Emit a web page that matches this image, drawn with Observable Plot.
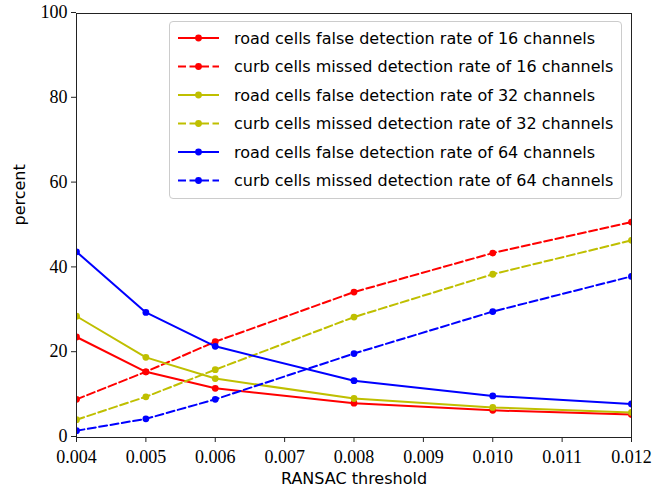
<!DOCTYPE html>
<html>
<head>
<meta charset="utf-8">
<script src="https://cdn.jsdelivr.net/npm/d3@7"></script>
<script src="https://cdn.jsdelivr.net/npm/@observablehq/plot@0.6"></script>
<style>
  body { margin: 0; background: #fff; }
  #wrap { position: relative; width: 655px; height: 491px; }
  #legend { position: absolute; left: 169px; top: 21px; width: 451px; height: 176px;
            border: 1px solid #cccccc; border-radius: 4px; background: rgba(255,255,255,0.85); }
</style>
</head>
<body>
<div id="wrap"><div id="legend"></div></div>
<script>
// ---- data ----
const thresholds = [0.004, 0.005, 0.006, 0.008, 0.010, 0.012];
const xTicks = [0.004, 0.005, 0.006, 0.007, 0.008, 0.009, 0.010, 0.011, 0.012];
const xTickLabels = ["0.004", "0.005", "0.006", "0.007", "0.008", "0.009", "0.010", "0.011", "0.012"];
const yTicks = [0, 20, 40, 60, 80, 100];
const yTickLabels = ["0", "20", "40", "60", "80", "100"];

const seriesNames = [
  "road cells false detection rate of 16 channels",
  "curb cells missed detection rate of 16 channels",
  "road cells false detection rate of 32 channels",
  "curb cells missed detection rate of 32 channels",
  "road cells false detection rate of 64 channels",
  "curb cells missed detection rate of 64 channels"
];
const road16 = [23.7, 15.5, 11.6, 8.1, 6.4, 5.4];
const curb16 = [9.0, 15.5, 22.6, 34.3, 43.5, 50.8];
const road32 = [28.6, 18.9, 13.9, 9.2, 7.1, 5.9];
const curb32 = [4.2, 9.6, 16.0, 28.4, 38.5, 46.5];
const road64 = [43.8, 29.5, 21.5, 13.4, 9.8, 7.9];
const curb64 = [1.6, 4.4, 9.0, 19.8, 29.7, 38.0];
const seriesValues = [road16, curb16, road32, curb32, road64, curb64];

const xLabel = "RANSAC threshold";
const yLabel = "percent";

// ---- styles ----
const seriesColors = ["#ff0000", "#ff0000", "#bfbf00", "#bfbf00", "#0000ff", "#0000ff"];
const seriesDashed = [false, true, false, true, false, true];
const DASH = "8,3.5";

const marks = [];
seriesValues.forEach((vals, i) => {
  const data = thresholds.map((t, j) => ({x: t, y: vals[j]}));
  marks.push(Plot.line(data, {x: "x", y: "y", stroke: seriesColors[i], strokeWidth: 2,
    strokeDasharray: seriesDashed[i] ? DASH : null, clip: true}));
  marks.push(Plot.dot(data, {x: "x", y: "y", r: 3.4, fill: seriesColors[i], stroke: "none", clip: true}));
});

const chart = Plot.plot({
  width: 655, height: 491,
  marginLeft: 76, marginRight: 24, marginTop: 13, marginBottom: 54,
  style: {fontFamily: "'Liberation Serif', serif", fontSize: "18px", color: "#000", background: "transparent"},
  x: {domain: [0.004, 0.012]},
  y: {domain: [0, 100]},
  marks: [
    Plot.axisX({ticks: xTicks, tickFormat: d => xTickLabels[xTicks.findIndex(t => Math.abs(t - d) < 1e-9)],
      tickSize: 5, tickPadding: 8, label: null, fontSize: 18, stroke: "#222"}),
    Plot.axisY({ticks: yTicks, tickFormat: d => yTickLabels[yTicks.indexOf(d)],
      tickSize: 5, tickPadding: 4, dy: -1, label: null, fontSize: 18, stroke: "#222"}),
    ...marks,
    Plot.frame({stroke: "#222", strokeWidth: 1}),
    Plot.text([xLabel], {frameAnchor: "bottom", dy: 46, fontFamily: "'DejaVu Sans', sans-serif", fontSize: 16, fill: "#000"}),
    Plot.text([yLabel], {frameAnchor: "left", dx: -57, rotate: -90, fontFamily: "'DejaVu Sans', sans-serif", fontSize: 16, fill: "#000"})
  ]
});
document.getElementById("wrap").prepend(chart);

// ---- legend ----
const lg = d3.select("#legend").append("svg").attr("width", 451).attr("height", 176)
  .style("position", "absolute").style("left", "0").style("top", "0");
const rowY = [16, 44.5, 73, 101.5, 130, 158.5];
seriesNames.forEach((name, i) => {
  const g = lg.append("g").attr("transform", `translate(0,${rowY[i]})`);
  g.append("line").attr("x1", 8).attr("x2", 49).attr("y1", 0).attr("y2", 0)
    .attr("stroke", seriesColors[i]).attr("stroke-width", 2)
    .attr("stroke-dasharray", seriesDashed[i] ? DASH : null);
  g.append("circle").attr("cx", 28.5).attr("cy", 0).attr("r", 3.4).attr("fill", seriesColors[i]);
  g.append("text").attr("x", 64).attr("y", 0).attr("dy", "0.35em")
    .attr("font-family", "'DejaVu Sans', sans-serif").attr("font-size", 16).attr("fill", "#000")
    .text(name);
});
</script>
</body>
</html>
